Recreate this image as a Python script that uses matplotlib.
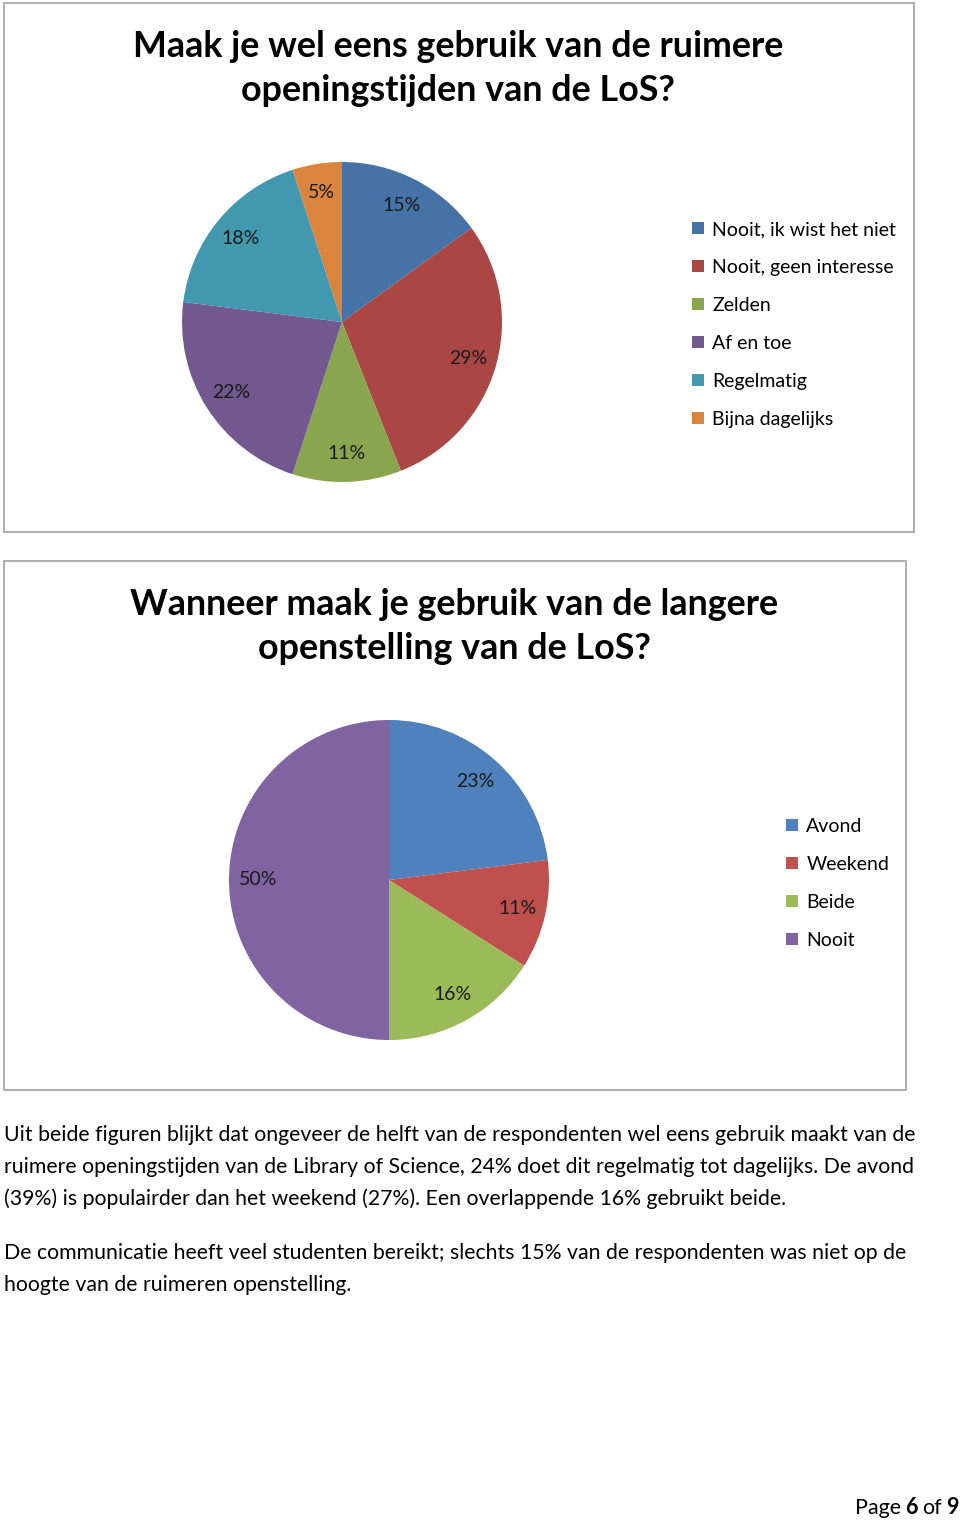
'''
Two survey pie charts (LoS opening hours) on a report page
'''

import matplotlib.pyplot as plt
from matplotlib.patches import Rectangle

# survey data
q1_title = 'Maak je wel eens gebruik van de ruimere\nopeningstijden van de LoS?'
q1_labels = ['Nooit, ik wist het niet', 'Nooit, geen interesse', 'Zelden',
             'Af en toe', 'Regelmatig', 'Bijna dagelijks']
q1_values = [15, 29, 11, 22, 18, 5]
q1_colors = ['#4572A7', '#AA4643', '#89A54E', '#71588F', '#4198AF', '#DB843D']

q2_title = 'Wanneer maak je gebruik van de langere\nopenstelling van de LoS?'
q2_labels = ['Avond', 'Weekend', 'Beide', 'Nooit']
q2_values = [23, 11, 16, 50]
q2_colors = ['#4F81BD', '#C0504D', '#9BBB59', '#8064A2']

para1 = ['Uit beide figuren blijkt dat ongeveer de helft van de respondenten wel eens gebruik maakt van de',
         'ruimere openingstijden van de Library of Science, 24% doet dit regelmatig tot dagelijks. De avond',
         '(39%) is populairder dan het weekend (27%). Een overlappende 16% gebruikt beide.']
para2 = ['De communicatie heeft veel studenten bereikt; slechts 15% van de respondenten was niet op de',
         'hoogte van de ruimeren openstelling.']

W, H = 960, 1521
plt.rcParams['font.family'] = ['Lato', 'DejaVu Sans']


def fx(px):
    return px / W


def fy(py):
    return 1 - py / H


def draw_pie(fig, cx, cy, r, values, colors, labels, leg_x, leg_y):
    '''
    pie centred at pixel (cx, cy) with radius r, legend at pixel (leg_x, leg_y)
    '''
    ax = fig.add_axes([fx(cx - r), fy(cy + r), fx(2 * r), 2 * r / H])
    wedges, _, autotexts = ax.pie(values, colors=colors, startangle=90, counterclock=False,
                                  autopct='%d%%', pctdistance=0.82,
                                  textprops={'fontsize': 14, 'color': '#1a1a1a'})
    ax.set_xlim(-1, 1)
    ax.set_ylim(-1, 1)
    ax.set_aspect('equal')
    fig.legend(wedges, labels, loc='upper left', bbox_to_anchor=(fx(leg_x), fy(leg_y)),
               frameon=False, fontsize=14, handlelength=0.6, handleheight=0.6,
               handletextpad=0.45, labelspacing=1.08, borderaxespad=0, borderpad=0)


fig = plt.figure(figsize=(W / 100, H / 100), dpi=100)

# chart frames
for x0, y0, x1, y1 in [(4, 3, 914, 532), (4, 561, 906, 1090)]:
    fig.patches.append(Rectangle((fx(x0), fy(y1)), fx(x1 - x0), (y1 - y0) / H,
                                 transform=fig.transFigure, fill=False,
                                 edgecolor='#b0b0b0', linewidth=1.5))

fig.text(fx(458), fy(68.5), q1_title, ha='center', va='center', fontsize=25.8,
         fontweight='bold', linespacing=1.38)
draw_pie(fig, 342, 322, 160, q1_values, q1_colors, q1_labels, 692, 221)

fig.text(fx(454), fy(626.5), q2_title, ha='center', va='center', fontsize=25.8,
         fontweight='bold', linespacing=1.38)
draw_pie(fig, 389, 880, 160, q2_values, q2_colors, q2_labels, 786, 818)

# body text
for i, line in enumerate(para1):
    fig.text(fx(4), fy(1135 + 32 * i), line, ha='left', va='center', fontsize=15.3)
for i, line in enumerate(para2):
    fig.text(fx(4), fy(1253 + 32 * i), line, ha='left', va='center', fontsize=15.3)

# footer
fig.text(fx(855), fy(1508), 'Page', ha='left', va='center', fontsize=15.5)
fig.text(fx(905), fy(1508), '6', ha='left', va='center', fontsize=15.5, fontweight='bold')
fig.text(fx(922), fy(1508), 'of', ha='left', va='center', fontsize=15.5)
fig.text(fx(946), fy(1508), '9', ha='left', va='center', fontsize=15.5, fontweight='bold')

fig.savefig('out.png', dpi=100)
